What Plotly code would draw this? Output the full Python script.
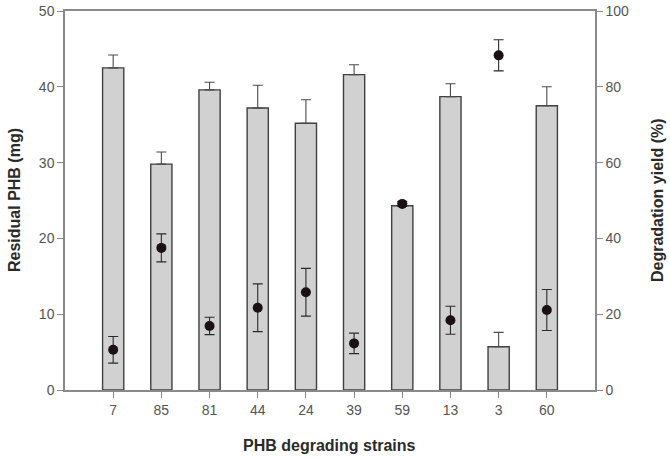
import plotly.graph_objects as go

# ─── Data ─────────────────────────────────────────────────────────────────────
strains = ["7", "85", "81", "44", "24", "39", "59", "13", "3", "60"]
residual_phb = [42.5, 29.8, 39.6, 37.2, 35.2, 41.6, 24.3, 38.7, 5.7, 37.5]
residual_err = [1.7, 1.6, 1.0, 3.0, 3.1, 1.3, 0.3, 1.7, 1.9, 2.5]
deg_yield = [10.6, 37.5, 16.9, 21.7, 25.8, 12.3, 49.1, 18.4, 88.3, 21.1]
deg_err = [3.5, 3.7, 2.3, 6.3, 6.3, 2.7, 0.6, 3.7, 4.1, 5.4]

AXIS_COLOR = "#8a8a8a"
TEXT_COLOR = "#2a2a2a"
TICK_COLOR = "#555555"
FONT = "Liberation Sans, Arial, sans-serif"

# plot box wanted at x 65..595, y 11..390 of the 670x460 page
W, H = 670, 460
L, R, T, B = 65, 75, 11, 70
PW, PH = W - L - R, H - T - B


def px_x(sx):
    return (sx - L) / PW


def px_y(sy):
    return 1 - (sy - T) / PH


fig = go.Figure()
fig.add_trace(go.Bar(
    x=strains,
    y=residual_phb,
    width=0.44,
    marker=dict(color="#d1d1d1", line=dict(color="#404040", width=1.4)),
    error_y=dict(type="data", array=residual_err, arrayminus=[0] * len(strains),
                 symmetric=False, color="#4a4a4a", thickness=1.1, width=5),
    name="Residual PHB",
    yaxis="y",
))
fig.add_trace(go.Scatter(
    x=strains,
    y=deg_yield,
    mode="markers",
    marker=dict(color="#1a1015", size=10),
    error_y=dict(type="data", array=deg_err, color="#2a2a2a", thickness=1.1, width=5),
    name="Degradation yield",
    yaxis="y2",
))

# axis titles placed as annotations for exact positioning
title_font = dict(family=FONT, size=16, color=TEXT_COLOR)
fig.add_annotation(text="<b>Residual PHB (mg)</b>", xref="paper", yref="paper",
                   x=px_x(14), y=px_y(200), textangle=-90, xanchor="center", yanchor="middle",
                   showarrow=False, font=title_font)
fig.add_annotation(text="<b>Degradation yield (%)</b>", xref="paper", yref="paper",
                   x=px_x(657), y=px_y(200), textangle=-90, xanchor="center", yanchor="middle",
                   showarrow=False, font=title_font)
fig.add_annotation(text="<b>PHB degrading strains</b>", xref="paper", yref="paper",
                   x=px_x(329), y=px_y(445), xanchor="center", yanchor="middle",
                   showarrow=False, font=title_font)

axis_common = dict(
    automargin=False,
    showline=True, linecolor=AXIS_COLOR, linewidth=1.5,
    ticks="outside", ticklen=6, tickcolor=AXIS_COLOR,
    showgrid=False, zeroline=False,
    ticklabeloverflow="allow",
    tickfont=dict(size=14, color=TICK_COLOR),
)

fig.update_layout(
    width=W,
    height=H,
    paper_bgcolor="white",
    plot_bgcolor="white",
    font=dict(family=FONT, color=TICK_COLOR, size=14),
    margin=dict(l=L, r=R, t=T, b=B),
    showlegend=False,
    xaxis=dict(type="category", range=[-1, 10], mirror=True, **axis_common),
    yaxis=dict(range=[0, 50], tickvals=[0, 10, 20, 30, 40, 50], **axis_common),
    yaxis2=dict(range=[0, 100], tickvals=[0, 20, 40, 60, 80, 100],
                overlaying="y", side="right", **axis_common),
)

# drop the default body margin so the figure sits flush in the window
fig.write_html("out.html", config={"displayModeBar": False},
               post_script="document.body.style.margin = '0';")
